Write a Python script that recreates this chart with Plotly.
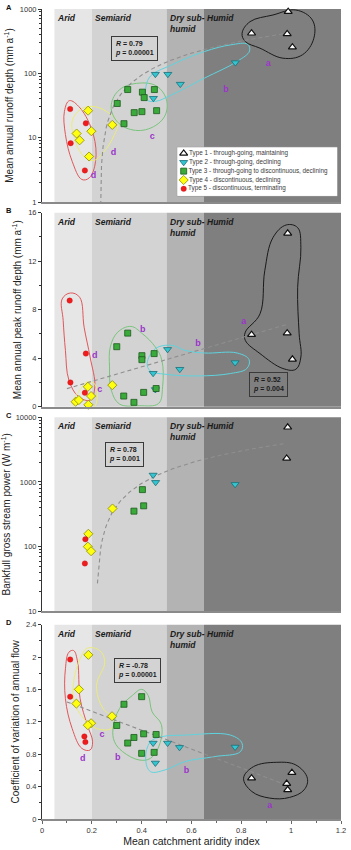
import numpy as np
import plotly.graph_objects as go

# ---------------- data ----------------
type_names = [
    "Type 1 - through-going, maintaining",
    "Type 2 - through-going, declining",
    "Type 3 - through-going to discontinuous, declining",
    "Type 4 - discontinuous, declining",
    "Type 5 - discontinuous, terminating",
]

# Panel A: mean annual runoff depth
a_t1_x = [0.841, 0.988, 0.984, 1.005]; a_t1_y = [420, 908, 410, 255]
a_t2_x = [0.776, 0.455, 0.505, 0.555, 0.447]; a_t2_y = [147, 97, 97, 68, 41]
a_t3_x = [0.344, 0.302, 0.403, 0.410, 0.451, 0.329, 0.370, 0.401, 0.460]
a_t3_y = [56, 34, 51, 42, 56, 16.5, 24.5, 25.4, 26.3]
a_t4_x = [0.185, 0.139, 0.151, 0.198, 0.189, 0.282]; a_t4_y = [26.3, 11.6, 9.1, 12.6, 5.1, 15.8]
a_t5_x = [0.113, 0.176, 0.115, 0.172]; a_t5_y = [27.9, 16.7, 8.2, 3.1]

# Panel B: mean annual peak runoff depth
b_t1_x = [0.986, 0.841, 0.984, 1.005]; b_t1_y = [14.3, 5.94, 6.07, 3.91]
b_t2_x = [0.504, 0.446, 0.553, 0.775, 0.455]; b_t2_y = [4.73, 2.76, 3.09, 3.64, 1.42]
b_t3_x = [0.344, 0.300, 0.401, 0.401, 0.450, 0.328, 0.369, 0.408, 0.458]
b_t3_y = [6.07, 4.95, 4.21, 3.88, 4.38, 0.88, 0.36, 1.18, 1.50]
b_t4_x = [0.282, 0.184, 0.197, 0.135, 0.148, 0.186]; b_t4_y = [1.78, 1.64, 0.88, 0.41, 0.55, 0.16]
b_t5_x = [0.111, 0.176, 0.114, 0.172]; b_t5_y = [8.75, 4.38, 2.0, 1.15]

# Panel C: bankfull gross stream power
c_t1_x = [0.986, 0.982]; c_t1_y = [7020, 2310]
c_t2_x = [0.446, 0.456, 0.775]; c_t2_y = [1282, 988, 920]
c_t3_x = [0.403, 0.369, 0.408]; c_t3_y = [762, 354, 428]
c_t4_x = [0.283, 0.186, 0.184, 0.197]; c_t4_y = [389, 158, 100, 85]
c_t5_x = [0.174, 0.172]; c_t5_y = [130, 55]

# Panel D: coefficient of variation of annual flow
d_t1_x = [0.841, 1.003, 0.982, 0.986]; d_t1_y = [0.504, 0.573, 0.438, 0.360]
d_t2_x = [0.446, 0.504, 0.552, 0.775, 0.455]; d_t2_y = [0.938, 0.938, 0.885, 0.889, 0.692]
d_t3_x = [0.329, 0.400, 0.300, 0.408, 0.458, 0.369, 0.344, 0.400, 0.450]
d_t3_y = [1.417, 1.511, 1.155, 1.052, 1.044, 1.007, 0.938, 0.811, 0.823]
d_t4_x = [0.186, 0.148, 0.138, 0.281, 0.197, 0.184]; d_t4_y = [2.027, 1.601, 1.425, 1.269, 1.183, 1.159]
d_t5_x = [0.113, 0.113, 0.170, 0.174]; d_t5_y = [1.970, 1.511, 1.020, 0.950]

# linear regression fits (slope, intercept, x-start, x-end) and statistics
fit_a = (560.0, -130.0, 0.2325, 0.985); stat_a = ("0.79", "0.00001")
fit_b = (6.0, 0.89, 0.10, 0.98); stat_b = ("0.52", "0.004")
fit_c = (5200.0, -1130.0, 0.2225, 0.98); stat_c = ("0.78", "0.001")
fit_d = (-1.166, 1.563, 0.10, 0.98); stat_d = ("-0.78", "0.00001")

# climate zones
zone_names = ["Arid", "Semiarid", "Dry sub-<br>humid", "Humid"]
zone_edges = [0.05, 0.2, 0.5, 0.65, 1.2]

# tick labels
a_ticks = [1, 10, 100, 1000]
c_ticks = [10, 100, 1000, 10000]

# hand-drawn group outlines (data units) per panel: colour key -> (x list, y list)
outl_a = {
    "red": ([0.110, 0.153, 0.206, 0.215, 0.190, 0.160, 0.121, 0.094, 0.090],
            [37.6, 28.9, 11.2, 4.3, 2.38, 2.24, 4.3, 11.2, 25.7]),
    "yellow": ([0.121, 0.153, 0.199, 0.258, 0.304, 0.291, 0.245, 0.206, 0.167, 0.134],
               [18.0, 27.2, 30.7, 25.7, 16.9, 11.2, 5.81, 4.42, 5.16, 8.81]),
    "green": ([0.278, 0.311, 0.390, 0.462, 0.501, 0.488, 0.416, 0.337, 0.291],
              [32.6, 55.6, 70.5, 62.6, 36.7, 20.2, 13.3, 14.2, 20.2]),
    "cyan": ([0.422, 0.429, 0.521, 0.652, 0.757, 0.825, 0.833, 0.783, 0.652, 0.521, 0.455],
             [38.9, 84.3, 135.6, 218, 277, 283, 223, 153, 84.3, 46.5, 36.7]),
    "black": ([0.803, 0.835, 0.927, 1.019, 1.085, 1.091, 1.045, 0.967, 0.875, 0.816],
              [419, 636, 807, 964, 675, 351, 194, 172, 246, 312]),
}
outl_b = {
    "red": ([0.081, 0.114, 0.151, 0.169, 0.193, 0.212, 0.193, 0.147, 0.108, 0.094, 0.085],
            [8.89, 9.38, 9.03, 6.56, 4.10, 1.64, 0.55, 0.82, 2.19, 4.65, 7.11]),
    "yellow": ([0.121, 0.143, 0.182, 0.212, 0.222, 0.206, 0.153],
               [0.27, 1.09, 2.05, 1.86, 0.82, -0.14, -0.33]),
    "green": ([0.274, 0.304, 0.357, 0.403, 0.455, 0.481, 0.484, 0.468, 0.390, 0.311, 0.278, 0.271],
              [4.92, 6.15, 6.62, 6.02, 4.92, 3.83, 1.64, 0.27, 0.08, 0.22, 1.37, 3.28]),
    "cyan": ([0.422, 0.455, 0.521, 0.573, 0.652, 0.783, 0.831, 0.822, 0.757, 0.626, 0.494, 0.435],
             [3.56, 4.79, 5.06, 4.65, 4.43, 4.43, 3.88, 3.15, 2.74, 2.54, 2.68, 2.95]),
    "black": ([0.816, 0.875, 0.894, 0.927, 0.980, 1.026, 1.039, 1.026, 1.032, 1.039, 1.019, 0.967, 0.875, 0.816],
              [6.15, 7.66, 11.21, 13.95, 14.99, 14.77, 13.13, 9.85, 6.02, 4.10, 3.09, 3.15, 4.38, 5.47]),
}
outl_c = {}
outl_d = {
    "red": ([0.094, 0.108, 0.127, 0.143, 0.153, 0.182, 0.203, 0.193, 0.160, 0.121, 0.094],
            [1.855, 2.060, 2.080, 1.937, 1.486, 1.159, 0.954, 0.852, 0.872, 1.118, 1.486]),
    "yellow": ([0.127, 0.153, 0.182, 0.232, 0.252, 0.219, 0.245, 0.291, 0.278, 0.219, 0.167, 0.130],
               [1.691, 1.978, 2.109, 2.080, 1.937, 1.650, 1.364, 1.241, 1.118, 1.118, 1.241, 1.446]),
    "green": ([0.285, 0.311, 0.363, 0.400, 0.426, 0.442, 0.479, 0.471, 0.435, 0.390, 0.324, 0.291],
              [1.118, 1.364, 1.527, 1.601, 1.527, 1.323, 1.167, 0.913, 0.749, 0.729, 0.831, 0.954]),
    "cyan": ([0.416, 0.435, 0.481, 0.573, 0.757, 0.803, 0.796, 0.691, 0.573, 0.494, 0.435],
             [0.749, 0.954, 1.016, 1.036, 1.036, 0.934, 0.831, 0.770, 0.708, 0.606, 0.586]),
    "black": ([0.809, 0.849, 0.940, 1.019, 1.065, 1.052, 0.993, 0.914, 0.842],
              [0.504, 0.647, 0.700, 0.667, 0.504, 0.360, 0.266, 0.258, 0.340]),
}

# group letters
lab_a = (["a", "b", "c", "d", "d"], [0.908, 0.738, 0.443, 0.287, 0.207], [139, 55.6, 10.5, 5.8, 2.59])
lab_b = (["a", "b", "b", "d", "c"], [0.810, 0.404, 0.626, 0.212, 0.232], [7.03, 6.35, 5.2, 4.24, 1.42])
lab_c = ([], [], [])
lab_d = (["c", "d", "b", "b", "a"], [0.241, 0.164, 0.304, 0.580, 0.914], [1.044, 0.741, 0.758, 0.598, 0.164])

y_titles = [
    "Mean annual runoff depth (mm a<sup>-1</sup>)",
    "Mean annual peak runoff depth (mm a<sup>-1</sup>)",
    "Bankfull gross stream power (W m<sup>-1</sup>)",
    "Coefficient of variation of annual flow",
]
x_title = "Mean catchment aridity index"
panel_letters = ["A", "B", "C", "D"]

# ---------------- styles ----------------
FONT = "Liberation Sans, Arial, sans-serif"
zone_colors = ["#e6e6e6", "#d3d3d3", "#b3b3b3", "#7f7f7f"]
outline_colors = {"red": "#e0575a", "yellow": "#ecec7a", "green": "#79c47c",
                  "cyan": "#5fd3de", "black": "#1a1a1a"}
mstyles = [
    dict(symbol="triangle-up", size=7, color="white", line=dict(color="#111", width=1.2)),
    dict(symbol="triangle-down", size=7, color="#33c6d0", line=dict(color="#1b6f78", width=0.8)),
    dict(symbol="square", size=6, color="#3aaa3a", line=dict(color="#1d5a1d", width=0.8)),
    dict(symbol="diamond", size=7, color="#ffff10", line=dict(color="#8a8a00", width=0.8)),
    dict(symbol="circle", size=5.5, color="#ee1c1c", line=dict(color="#c01010", width=0.3)),
]
PURPLE = "#9b35c9"

panels = [
    dict(types=[(a_t1_x, a_t1_y), (a_t2_x, a_t2_y), (a_t3_x, a_t3_y), (a_t4_x, a_t4_y), (a_t5_x, a_t5_y)],
         fit=fit_a, stat=stat_a, outl=outl_a, lab=lab_a, log=a_ticks, yr=[0, 3],
         dom=[0.7617, 1.0], statpos=(0.31, 0.796)),
    dict(types=[(b_t1_x, b_t1_y), (b_t2_x, b_t2_y), (b_t3_x, b_t3_y), (b_t4_x, b_t4_y), (b_t5_x, b_t5_y)],
         fit=fit_b, stat=stat_b, outl=outl_b, lab=lab_b, log=None, yr=[0, 16],
         dom=[0.509, 0.7485], statpos=(0.759, 0.114)),
    dict(types=[(c_t1_x, c_t1_y), (c_t2_x, c_t2_y), (c_t3_x, c_t3_y), (c_t4_x, c_t4_y), (c_t5_x, c_t5_y)],
         fit=fit_c, stat=stat_c, outl=outl_c, lab=lab_c, log=c_ticks, yr=[1, 4],
         dom=[0.2564, 0.4959], statpos=(0.277, 0.807)),
    dict(types=[(d_t1_x, d_t1_y), (d_t2_x, d_t2_y), (d_t3_x, d_t3_y), (d_t4_x, d_t4_y), (d_t5_x, d_t5_y)],
         fit=fit_d, stat=stat_d, outl=outl_d, lab=lab_d, log=None, yr=[0, 2.4],
         dom=[0.0, 0.2399], statpos=(0.318, 0.766)),
]

fig = go.Figure()
shapes = []
annotations = []
layout = dict(width=351, height=850, margin=dict(l=41, r=5, t=7, b=29),
              paper_bgcolor="white", plot_bgcolor="white", showlegend=False,
              font=dict(family=FONT, color="#222"))

minor_log = [m * 10 ** e for e in range(0, 4) for m in range(2, 10)]

for i, p in enumerate(panels):
    n = "" if i == 0 else str(i + 1)
    xa, ya = "x" + n, "y" + n
    # zone bands
    for k in range(4):
        shapes.append(dict(type="rect", xref=xa, yref=ya + " domain", x0=zone_edges[k], x1=zone_edges[k + 1],
                           y0=0, y1=1, fillcolor=zone_colors[k], line=dict(width=0), layer="below"))
        annotations.append(dict(xref=xa, yref=ya + " domain", x=zone_edges[k], y=1, xanchor="left",
                                yanchor="top", xshift=1, yshift=-2, showarrow=False, align="left",
                                text="<b><i>%s</i></b>" % zone_names[k],
                                font=dict(size=8.5, color="#1a1a1a")))
    # outlines
    for key, (ox, oy) in p["outl"].items():
        fig.add_trace(go.Scatter(x=list(ox) + [ox[0]], y=list(oy) + [oy[0]], mode="lines",
                                 line=dict(color=outline_colors[key], width=1, shape="spline", smoothing=1.1),
                                 xaxis=xa, yaxis=ya, hoverinfo="skip"))
    # fit line
    s, b, x0, x1 = p["fit"]
    fx = np.linspace(x0, x1, 120)
    fig.add_trace(go.Scatter(x=fx, y=s * fx + b, mode="lines",
                             line=dict(color="#8e8e8e", width=1.1, dash="4px,3px"),
                             xaxis=xa, yaxis=ya, hoverinfo="skip"))
    # markers
    for t, (tx, ty) in enumerate(p["types"]):
        fig.add_trace(go.Scatter(x=tx, y=ty, mode="markers", marker=mstyles[t],
                                 xaxis=xa, yaxis=ya, name=type_names[t], cliponaxis=False))
    # group letters
    lt, lx, ly = p["lab"]
    if lt:
        fig.add_trace(go.Scatter(x=lx, y=ly, mode="text", text=lt,
                                 textfont=dict(size=9, color=PURPLE, weight="bold", family=FONT),
                                 xaxis=xa, yaxis=ya, hoverinfo="skip"))
    # R / p box
    r, pv = p["stat"]
    annotations.append(dict(xref=xa + " domain", yref=ya + " domain", x=p["statpos"][0], y=p["statpos"][1],
                            xanchor="center", yanchor="middle", showarrow=False, align="left",
                            text="<b><i>R</i> = %s</b><br><b><i>p</i> = %s</b>" % (r, pv),
                            font=dict(size=7, color="#1a1a1a"), bordercolor="#3a3a3a",
                            borderwidth=1, borderpad=3, bgcolor="rgba(0,0,0,0)"))
    # panel letter
    annotations.append(dict(xref="paper", yref=ya + " domain", x=-0.128, y=1, xanchor="left",
                            yanchor="middle", yshift=2, showarrow=False,
                            text="<b>%s</b>" % panel_letters[i], font=dict(size=7.5, color="#111")))
    # axes
    last = i == 3
    xd = dict(anchor=ya, domain=[0, 1], range=[0, 1.2], showgrid=False, zeroline=False,
              showline=True, linecolor="#8a8a8a", linewidth=1.5,
              showticklabels=last, ticks="outside" if last else "",
              dtick=0.2, tick0=0, ticklen=3, tickcolor="#666",
              tickfont=dict(size=7.5, color="#333"), ticklabeloverflow="allow",
              minor=dict(ticks="outside" if last else "", dtick=0.1, ticklen=2, tickcolor="#666"),
              fixedrange=True)
    if last:
        xd["title"] = dict(text=x_title, font=dict(size=10.5, color="#222"), standoff=3)
    layout["xaxis" + n] = xd
    yd = dict(anchor=xa, domain=p["dom"], range=p["yr"], showgrid=False, zeroline=False,
              showline=True, linecolor="#333", linewidth=1, ticks="outside", ticklen=3, tickcolor="#333",
              tickfont=dict(size=7.5, color="#333"),
              title=dict(text=y_titles[i], font=dict(size=10, color="#222"), standoff=4),
              fixedrange=True)
    if p["log"]:
        yd.update(type="log", tickvals=p["log"], ticktext=[str(v) for v in p["log"]],
                  minor=dict(ticks="outside", ticklen=2, tickcolor="#333", tickvals=minor_log))
    else:
        step = 4 if i == 1 else 0.4
        yd.update(dtick=step, tick0=0, minor=dict(ticks="outside", ticklen=2, tickcolor="#333", dtick=step / 2))
    layout["yaxis" + n] = yd

# custom legend inside panel A
shapes.append(dict(type="rect", xref="x domain", yref="y domain", x0=0.4525, x1=0.987, y0=0.031, y1=0.2835,
                   fillcolor="white", line=dict(color="#9a9a9a", width=1), layer="below"))
leg_rows = [4.55, 3.6, 2.65, 1.7, 0.75]
for t in range(5):
    fig.add_trace(go.Scatter(x=[0.04], y=[leg_rows[t]], mode="markers+text", marker=mstyles[t],
                             text=[type_names[t]], textposition="middle right",
                             textfont=dict(size=6.3, color="#3a3a3a", family=FONT),
                             xaxis="x5", yaxis="y5", hoverinfo="skip", cliponaxis=False))
layout["xaxis5"] = dict(domain=[0.4525, 0.987], range=[0, 1], visible=False, anchor="y5", fixedrange=True)
layout["yaxis5"] = dict(domain=[0.7693, 0.8292], range=[0, 5.2], visible=False, anchor="x5", fixedrange=True)

layout["shapes"] = shapes
layout["annotations"] = annotations
fig.update_layout(**layout)
fig.write_html("out.html")
